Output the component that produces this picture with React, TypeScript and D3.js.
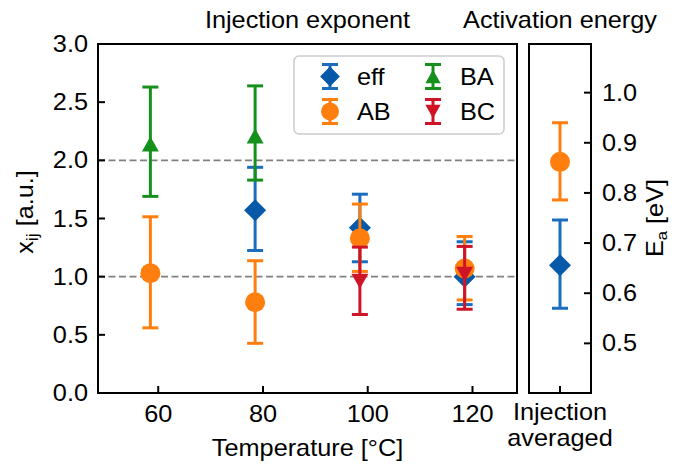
import React from "react";
import * as d3 from "d3";

// ---------- data ----------
const xTicks = [60, 80, 100, 120];
const yTicks = [0, 0.5, 1.0, 1.5, 2.0, 2.5, 3.0];
const eaTicks = [0.5, 0.6, 0.7, 0.8, 0.9, 1.0];
const refLines = [1.0, 2.0];

const effT = [78.5, 98.5, 118.5];
const effX = [1.57, 1.42, 1.0];
const effLo = [1.225, 1.128, 0.76];
const effHi = [1.94, 1.709, 1.3];

const abT = [58.5, 78.5, 98.5, 118.5];
const abX = [1.03, 0.78, 1.33, 1.07];
const abLo = [0.56, 0.427, 1.045, 0.8];
const abHi = [1.515, 1.137, 1.624, 1.345];

const baT = [58.5, 78.5];
const baX = [2.14, 2.21];
const baLo = [1.69, 1.83];
const baHi = [2.63, 2.64];

const bcT = [98.5, 118.5];
const bcX = [0.96, 1.02];
const bcLo = [0.675, 0.72];
const bcHi = [1.254, 1.26];

const eaSeries = ["eff", "AB"];
const eaValue = [0.656, 0.862];
const eaLo = [0.57, 0.786];
const eaHi = [0.746, 0.94];

// ---------- styles ----------
const FONT = "'Liberation Sans', Arial, sans-serif";
const FS = 23;
const SX = 1.1;
const styles: Record<string, { line: string; fill: string; shape: string }> = {
  eff: { line: "#1b6dbd", fill: "#0658a9", shape: "diamond" },
  AB: { line: "#ff7f0e", fill: "#ff7f0e", shape: "circle" },
  BA: { line: "#16901c", fill: "#16901c", shape: "up" },
  BC: { line: "#cf1428", fill: "#cf1428", shape: "down" },
};

const series = [
  { name: "eff", t: effT, v: effX, lo: effLo, hi: effHi },
  { name: "AB", t: abT, v: abX, lo: abLo, hi: abHi },
  { name: "BA", t: baT, v: baX, lo: baLo, hi: baHi },
  { name: "BC", t: bcT, v: bcX, lo: bcLo, hi: bcHi },
];

function T({ x, y, anchor = "start", rotate = 0, children, size = FS }: any) {
  return (
    <text
      transform={`translate(${x},${y})${rotate ? ` rotate(${rotate})` : ""} scale(${SX},1)`}
      fontSize={size}
      textAnchor={anchor}
    >
      {children}
    </text>
  );
}

function Marker({ shape, x, y, fill, k = 1 }: any) {
  if (shape === "circle") return <circle cx={x} cy={y} r={10 * k} fill={fill} />;
  if (shape === "diamond") {
    const w = 11 * k, h = 11 * k;
    return <path d={`M${x},${y - h}L${x + w},${y}L${x},${y + h}L${x - w},${y}Z`} fill={fill} />;
  }
  const w = 8.5 * k, h = 7.5 * k;
  if (shape === "up")
    return <path d={`M${x},${y - h}L${x + w},${y + h}L${x - w},${y + h}Z`} fill={fill} />;
  return <path d={`M${x},${y + h}L${x + w},${y - h}L${x - w},${y - h}Z`} fill={fill} />;
}

function ErrBar({ x, y0, y1, color, cap = 8 }: any) {
  return (
    <g stroke={color} strokeWidth={3}>
      <line x1={x} x2={x} y1={y0} y2={y1} />
      <line x1={x - cap} x2={x + cap} y1={y0} y2={y0} />
      <line x1={x - cap} x2={x + cap} y1={y1} y2={y1} />
    </g>
  );
}

export default function App() {
  const W = 673, H = 464;
  const m = { l: 98, r: 517, t: 44, b: 393 };
  const p2 = { l: 529, r: 591 };
  const x = d3.scaleLinear().domain([48.5, 128.5]).range([m.l, m.r]);
  const y = d3.scaleLinear().domain([0, 3]).range([m.b, m.t]);
  const xe = d3.scalePoint<string>().domain(["Injection averaged"]).range([p2.l, p2.r]).padding(0.5);
  const ye = d3.scaleLinear().domain([0.401, 1.097]).range([m.b, m.t]);
  const tickLen = 7;

  const legendRows = [
    { name: "eff", col: 0, row: 0 },
    { name: "AB", col: 0, row: 1 },
    { name: "BA", col: 1, row: 0 },
    { name: "BC", col: 1, row: 1 },
  ];

  const ex = xe("Injection averaged") as number;

  return (
    <svg width={W} height={H} style={{ position: "absolute", left: 0, top: 0, background: "#fff" }} fontFamily={FONT}>
      <rect width={W} height={H} fill="#fff" />
      {/* titles */}
      <T x={(m.l + m.r) / 2} y={28} anchor="middle">Injection exponent</T>
      <T x={(p2.l + p2.r) / 2} y={28} anchor="middle">Activation energy</T>

      {/* reference lines */}
      {refLines.map((v) => (
        <line key={v} x1={m.l} x2={m.r} y1={y(v)} y2={y(v)} stroke="#808080" strokeWidth={1.8} strokeDasharray="7,3.5" />
      ))}

      {/* main series */}
      {series.map((s) => {
        const st = styles[s.name];
        return (
          <g key={s.name}>
            {s.t.map((t, i) => (
              <g key={i}>
                <ErrBar x={x(t)} y0={y(s.lo[i])} y1={y(s.hi[i])} color={st.line} />
                <Marker shape={st.shape} x={x(t)} y={y(s.v[i])} fill={st.fill} />
              </g>
            ))}
          </g>
        );
      })}

      {/* legend */}
      <rect x={294} y={56} width={210} height={78} rx={5} fill="#fff" fillOpacity={0.85} stroke="#cccccc" strokeWidth={1.5} />
      {legendRows.map((r) => {
        const st = styles[r.name];
        const lx = 330 + r.col * 103;
        const ly = 76.5 + r.row * 35;
        return (
          <g key={r.name}>
            <ErrBar x={lx} y0={ly - 12} y1={ly + 12} color={st.line} />
            <Marker shape={st.shape} x={lx} y={ly} fill={st.fill} k={0.9} />
            <T x={lx + 27} y={ly + 8}>{r.name}</T>
          </g>
        );
      })}

      {/* main axes frame */}
      <rect x={m.l} y={m.t} width={m.r - m.l} height={m.b - m.t} fill="none" stroke="#000" strokeWidth={2} />
      {xTicks.map((t) => (
        <g key={t}>
          <line x1={x(t)} x2={x(t)} y1={m.b} y2={m.b - tickLen} stroke="#000" strokeWidth={2} />
          <T x={x(t)} y={422} anchor="middle">{t}</T>
        </g>
      ))}
      {yTicks.map((t) => (
        <g key={t}>
          <line x1={m.l} x2={m.l + tickLen} y1={y(t)} y2={y(t)} stroke="#000" strokeWidth={2} />
          <T x={88} y={y(t) + 8} anchor="end">{t.toFixed(1)}</T>
        </g>
      ))}
      <T x={(m.l + m.r) / 2} y={456} anchor="middle">Temperature [°C]</T>
      <T x={33} y={212} rotate={-90} anchor="middle">
        x<tspan fontSize={16} dy={5}>ij</tspan><tspan dy={-5}> [a.u.]</tspan>
      </T>

      {/* right panel */}
      {eaSeries.map((n, i) => {
        const st = styles[n];
        return (
          <g key={n}>
            <ErrBar x={ex} y0={ye(eaLo[i])} y1={ye(eaHi[i])} color={st.line} />
            <Marker shape={st.shape} x={ex} y={ye(eaValue[i])} fill={st.fill} />
          </g>
        );
      })}
      <rect x={p2.l} y={m.t} width={p2.r - p2.l} height={m.b - m.t} fill="none" stroke="#000" strokeWidth={2} />
      <line x1={ex} x2={ex} y1={m.b} y2={m.b - tickLen} stroke="#000" strokeWidth={2} />
      <T x={ex} y={420} anchor="middle">Injection</T>
      <T x={ex} y={446} anchor="middle">averaged</T>
      {eaTicks.map((t) => (
        <g key={t}>
          <line x1={p2.r} x2={p2.r - tickLen} y1={ye(t)} y2={ye(t)} stroke="#000" strokeWidth={2} />
          <T x={602} y={ye(t) + 8}>{t.toFixed(1)}</T>
        </g>
      ))}
      <T x={663} y={218} rotate={-90} anchor="middle">
        E<tspan fontSize={15} dy={4}>a</tspan><tspan dy={-4}> [eV]</tspan>
      </T>
    </svg>
  );
}
